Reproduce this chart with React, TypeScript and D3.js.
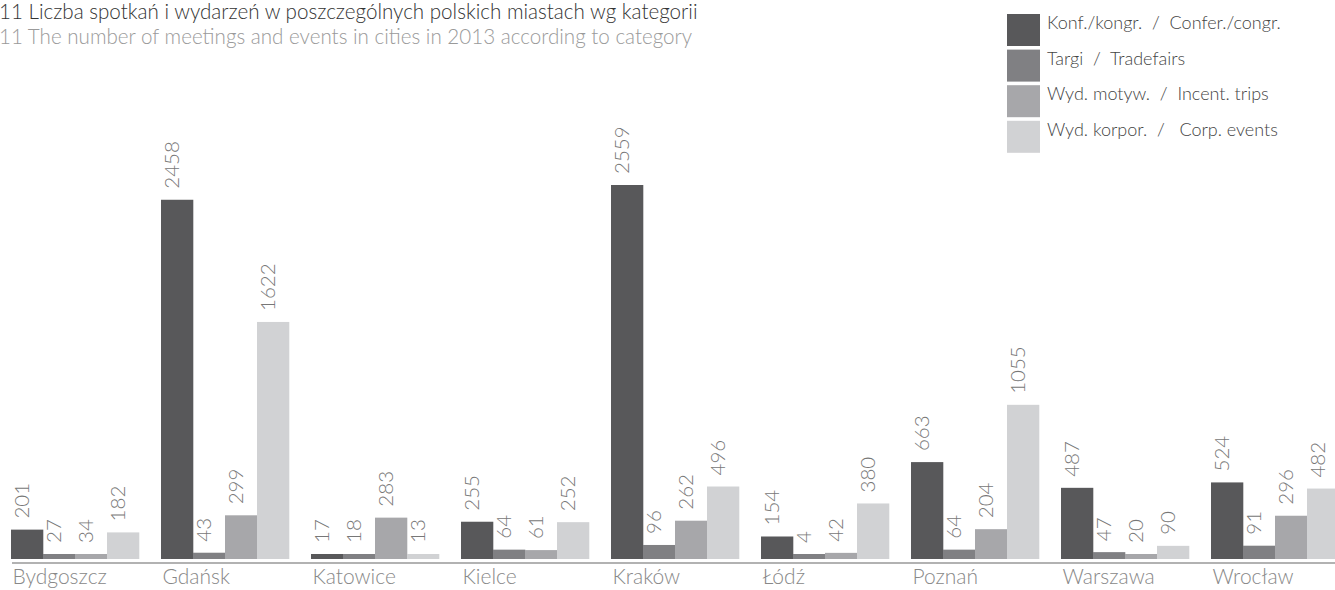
import React from "react";
import * as d3 from "d3";

const cities = ["Bydgoszcz", "Gdańsk", "Katowice", "Kielce", "Kraków", "Łódź", "Poznań", "Warszawa", "Wrocław"];
const conferences = [201, 2458, 17, 255, 2559, 154, 663, 487, 524];
const tradefairs = [27, 43, 18, 64, 96, 4, 64, 47, 91];
const incentives = [34, 299, 283, 61, 262, 42, 204, 20, 296];
const corporate = [182, 1622, 13, 252, 496, 380, 1055, 90, 482];
const seriesNames = [
  "Konf./kongr.  /  Confer./congr.",
  "Targi  /  Tradefairs",
  "Wyd. motyw.  /  Incent. trips",
  "Wyd. korpor.  /   Corp. events",
];
const titlePl = "11 Liczba spotkań i wydarzeń w poszczególnych polskich miastach wg kategorii";
const titleEn = "11 The number of meetings and events in cities in 2013 according to category";

const W = 1335;
const H = 590;
const colors = ["#58585a", "#808083", "#a7a7aa", "#d1d2d4"];
const FONT = "Lato, 'Open Sans', sans-serif";

export default function App() {
  const series = [conferences, tradefairs, incentives, corporate];
  const x0 = d3.scaleBand<string>().domain(cities).range([11, 1339]).paddingInner(0.1467).paddingOuter(0);
  const x1 = d3.scaleBand<number>().domain([0, 1, 2, 3]).range([0, x0.bandwidth()]).padding(0);
  const baseY = 559;
  const y = d3.scaleLinear().domain([0, 2559]).range([baseY, 185]);
  const minH = 5;

  return (
    <svg width={W} height={H} style={{ position: "absolute", left: 0, top: 0, background: "#fff" }} fontFamily={FONT}>
      <text x={-1} y={19} fontSize={20.6} fill="#333" fontWeight={300}>{titlePl}</text>
      <text x={-1} y={44} fontSize={20.6} fill="#9a9a9a" fontWeight={300}>{titleEn}</text>

      {seriesNames.map((n, i) => (
        <g key={n} transform={`translate(1007, ${14 + i * 35.6})`}>
          <rect width={33} height={32} fill={colors[i]} />
          <text x={40} y={15} fontSize={18} fill="#444" fontWeight={300} style={{ whiteSpace: "pre" }}>{n}</text>
        </g>
      ))}

      {cities.map((c, ci) => (
        <g key={c} transform={`translate(${x0(c)}, 0)`}>
          {series.map((s, si) => {
            const v = s[ci];
            const h = Math.max(baseY - y(v), minH);
            const bx = x1(si) as number;
            const top = baseY - h;
            const lx = bx + 18;
            const ly = top - 11;
            return (
              <g key={si}>
                <rect x={bx} y={top} width={x1.bandwidth() + 0.3} height={h} fill={colors[si]} />
                <text
                  transform={`translate(${lx}, ${ly}) rotate(-90)`}
                  fontSize={20.5}
                  fill="#777"
                  fontWeight={300}
                >
                  {v}
                </text>
              </g>
            );
          })}
          <text x={1.5} y={584} fontSize={21} fill="#888" fontWeight={300}>{c}</text>
        </g>
      ))}
      <line x1={12} x2={W} y1={563} y2={563} stroke="#999" strokeWidth={1.5} />
    </svg>
  );
}
